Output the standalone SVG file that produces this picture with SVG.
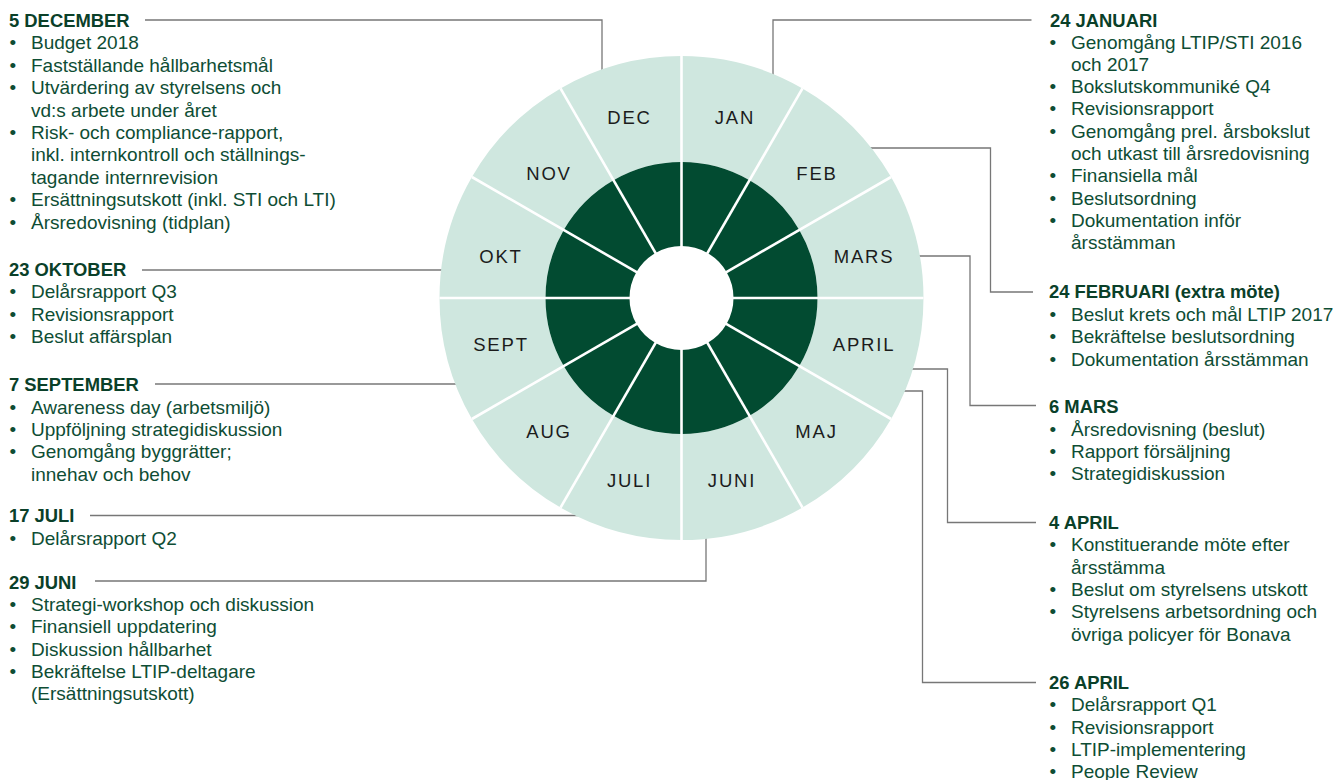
<svg xmlns="http://www.w3.org/2000/svg" width="1338" height="780" viewBox="0 0 1338 780">
<style>
.lt{fill:#cfe7df}
.dk{fill:#024b31}
.ml{font-family:"Liberation Sans",Arial,sans-serif;font-size:18.5px;letter-spacing:1.8px;fill:#1c1c1c;text-anchor:middle}
.hd{font-family:"Liberation Sans",Arial,sans-serif;font-size:18.4px;font-weight:bold;fill:#0a4029}
.bd{font-family:"Liberation Sans",Arial,sans-serif;font-size:19px;fill:#0e4d34}
.cn{fill:none;stroke:#777;stroke-width:1.3}
.dv{stroke:#fff;stroke-width:2.6}
</style>
<rect width="1338" height="780" fill="#fff"/>
<g id="connectors" class="cn">
<polyline points="145,20 602,20 602,74"/>
<polyline points="1031.5,20 773,20 773,78"/>
<polyline points="866,148 990.5,148 990.5,292 1033,292"/>
<polyline points="916,256 970,256 970,405.5 1036,405.5"/>
<polyline points="908,369 947.5,369 947.5,522.5 1036,522.5"/>
<polyline points="900,391 922.5,391 922.5,682.5 1036,682.5"/>
<polyline points="142,270 446,270"/>
<polyline points="155,384 460,384"/>
<polyline points="90,515.5 580,515.5"/>
<polyline points="95,581 706,581 706,534"/>
</g>
<g id="wheel">
<g id="m-jan"><path class="lt" d="M681.5,56 A242,242 0 0 1 802.5,88.42 L749.5,180.22 A136,136 0 0 0 681.5,162 Z"/><path class="dk" d="M681.5,162 A136,136 0 0 1 749.5,180.22 L707.5,252.97 A52,52 0 0 0 681.5,246 Z"/><text class="ml" x="735" y="124">JAN</text></g>
<g id="m-feb"><path class="lt" d="M802.5,88.42 A242,242 0 0 1 891.08,177 L799.28,230 A136,136 0 0 0 749.5,180.22 Z"/><path class="dk" d="M749.5,180.22 A136,136 0 0 1 799.28,230 L726.53,272 A52,52 0 0 0 707.5,252.97 Z"/><text class="ml" x="817" y="180">FEB</text></g>
<g id="m-mars"><path class="lt" d="M891.08,177 A242,242 0 0 1 923.5,298 L817.5,298 A136,136 0 0 0 799.28,230 Z"/><path class="dk" d="M799.28,230 A136,136 0 0 1 817.5,298 L733.5,298 A52,52 0 0 0 726.53,272 Z"/><text class="ml" x="864" y="262.7">MARS</text></g>
<g id="m-april"><path class="lt" d="M923.5,298 A242,242 0 0 1 891.08,419 L799.28,366 A136,136 0 0 0 817.5,298 Z"/><path class="dk" d="M817.5,298 A136,136 0 0 1 799.28,366 L726.53,324 A52,52 0 0 0 733.5,298 Z"/><text class="ml" x="864" y="351">APRIL</text></g>
<g id="m-maj"><path class="lt" d="M891.08,419 A242,242 0 0 1 802.5,507.58 L749.5,415.78 A136,136 0 0 0 799.28,366 Z"/><path class="dk" d="M799.28,366 A136,136 0 0 1 749.5,415.78 L707.5,342.97 A52,52 0 0 0 726.53,324 Z"/><text class="ml" x="816.5" y="437.7">MAJ</text></g>
<g id="m-juni"><path class="lt" d="M802.5,507.58 A242,242 0 0 1 681.5,540 L681.5,434 A136,136 0 0 0 749.5,415.78 Z"/><path class="dk" d="M749.5,415.78 A136,136 0 0 1 681.5,434 L681.5,350 A52,52 0 0 0 707.5,342.97 Z"/><text class="ml" x="732" y="486.7">JUNI</text></g>
<g id="m-juli"><path class="lt" d="M681.5,540 A242,242 0 0 1 560.5,507.58 L613.5,415.78 A136,136 0 0 0 681.5,434 Z"/><path class="dk" d="M681.5,434 A136,136 0 0 1 613.5,415.78 L655.5,342.97 A52,52 0 0 0 681.5,350 Z"/><text class="ml" x="629.5" y="486.7">JULI</text></g>
<g id="m-aug"><path class="lt" d="M560.5,507.58 A242,242 0 0 1 471.92,419 L563.72,366 A136,136 0 0 0 613.5,415.78 Z"/><path class="dk" d="M613.5,415.78 A136,136 0 0 1 563.72,366 L636.47,324 A52,52 0 0 0 655.5,342.97 Z"/><text class="ml" x="549" y="437.7">AUG</text></g>
<g id="m-sept"><path class="lt" d="M471.92,419 A242,242 0 0 1 439.5,298 L545.5,298 A136,136 0 0 0 563.72,366 Z"/><path class="dk" d="M563.72,366 A136,136 0 0 1 545.5,298 L629.5,298 A52,52 0 0 0 636.47,324 Z"/><text class="ml" x="501" y="351">SEPT</text></g>
<g id="m-okt"><path class="lt" d="M439.5,298 A242,242 0 0 1 471.92,177 L563.72,230 A136,136 0 0 0 545.5,298 Z"/><path class="dk" d="M545.5,298 A136,136 0 0 1 563.72,230 L636.47,272 A52,52 0 0 0 629.5,298 Z"/><text class="ml" x="501" y="262.7">OKT</text></g>
<g id="m-nov"><path class="lt" d="M471.92,177 A242,242 0 0 1 560.5,88.42 L613.5,180.22 A136,136 0 0 0 563.72,230 Z"/><path class="dk" d="M563.72,230 A136,136 0 0 1 613.5,180.22 L655.5,252.97 A52,52 0 0 0 636.47,272 Z"/><text class="ml" x="549" y="180">NOV</text></g>
<g id="m-dec"><path class="lt" d="M560.5,88.42 A242,242 0 0 1 681.5,56 L681.5,162 A136,136 0 0 0 613.5,180.22 Z"/><path class="dk" d="M613.5,180.22 A136,136 0 0 1 681.5,162 L681.5,246 A52,52 0 0 0 655.5,252.97 Z"/><text class="ml" x="629.5" y="124">DEC</text></g>
<g id="dividers" class="dv">
<line x1="681.5" y1="56" x2="681.5" y2="540"/>
<line x1="802.5" y1="88.42" x2="560.5" y2="507.58"/>
<line x1="891.08" y1="177" x2="471.92" y2="419"/>
<line x1="923.5" y1="298" x2="439.5" y2="298"/>
<line x1="891.08" y1="419" x2="471.92" y2="177"/>
<line x1="802.5" y1="507.58" x2="560.5" y2="88.42"/>
</g>
</g>
<g id="n-dec">
<text class="hd" x="9" y="27">5 DECEMBER</text>
<text class="bd"><tspan x="9.5" y="49.3">•</tspan><tspan x="31">Budget 2018</tspan><tspan x="9.5" y="71.7">•</tspan><tspan x="31">Fastställande hållbarhetsmål</tspan><tspan x="9.5" y="94.1">•</tspan><tspan x="31">Utvärdering av styrelsens och</tspan><tspan x="31" y="116.5">vd:s arbete under året</tspan><tspan x="9.5" y="138.9">•</tspan><tspan x="31">Risk- och compliance-rapport,</tspan><tspan x="31" y="161.3">inkl. internkontroll och ställnings-</tspan><tspan x="31" y="183.7">tagande internrevision</tspan><tspan x="9.5" y="206.1">•</tspan><tspan x="31">Ersättningsutskott (inkl. STI och LTI)</tspan><tspan x="9.5" y="228.5">•</tspan><tspan x="31">Årsredovisning (tidplan)</tspan></text>
</g>
<g id="n-okt">
<text class="hd" x="9" y="276">23 OKTOBER</text>
<text class="bd"><tspan x="9.5" y="298.3">•</tspan><tspan x="31">Delårsrapport Q3</tspan><tspan x="9.5" y="320.7">•</tspan><tspan x="31">Revisionsrapport</tspan><tspan x="9.5" y="343">•</tspan><tspan x="31">Beslut affärsplan</tspan></text>
</g>
<g id="n-sept">
<text class="hd" x="9" y="390.7">7 SEPTEMBER</text>
<text class="bd"><tspan x="9.5" y="413.5">•</tspan><tspan x="31">Awareness day (arbetsmiljö)</tspan><tspan x="9.5" y="435.8">•</tspan><tspan x="31">Uppföljning strategidiskussion</tspan><tspan x="9.5" y="458.2">•</tspan><tspan x="31">Genomgång byggrätter;</tspan><tspan x="31" y="480.5">innehav och behov</tspan></text>
</g>
<g id="n-juli">
<text class="hd" x="9" y="522.3">17 JULI</text>
<text class="bd"><tspan x="9.5" y="544.5">•</tspan><tspan x="31">Delårsrapport Q2</tspan></text>
</g>
<g id="n-juni">
<text class="hd" x="9" y="589">29 JUNI</text>
<text class="bd"><tspan x="9.5" y="611">•</tspan><tspan x="31">Strategi-workshop och diskussion</tspan><tspan x="9.5" y="633.3">•</tspan><tspan x="31">Finansiell uppdatering</tspan><tspan x="9.5" y="655.6">•</tspan><tspan x="31">Diskussion hållbarhet</tspan><tspan x="9.5" y="678">•</tspan><tspan x="31">Bekräftelse LTIP-deltagare</tspan><tspan x="31" y="700.3">(Ersättningsutskott)</tspan></text>
</g>
<g id="n-jan">
<text class="hd" x="1050" y="26.5">24 JANUARI</text>
<text class="bd"><tspan x="1049.5" y="48.5">•</tspan><tspan x="1071">Genomgång LTIP/STI 2016</tspan><tspan x="1071" y="70.8">och 2017</tspan><tspan x="1049.5" y="93.1">•</tspan><tspan x="1071">Bokslutskommuniké Q4</tspan><tspan x="1049.5" y="115.4">•</tspan><tspan x="1071">Revisionsrapport</tspan><tspan x="1049.5" y="137.7">•</tspan><tspan x="1071">Genomgång prel. årsbokslut</tspan><tspan x="1071" y="160">och utkast till årsredovisning</tspan><tspan x="1049.5" y="182.3">•</tspan><tspan x="1071">Finansiella mål</tspan><tspan x="1049.5" y="204.6">•</tspan><tspan x="1071">Beslutsordning</tspan><tspan x="1049.5" y="226.9">•</tspan><tspan x="1071">Dokumentation inför</tspan><tspan x="1071" y="249.2">årsstämman</tspan></text>
</g>
<g id="n-feb">
<text class="hd" x="1049" y="298.3">24 FEBRUARI (extra möte)</text>
<text class="bd"><tspan x="1049.5" y="321">•</tspan><tspan x="1071">Beslut krets och mål LTIP 2017</tspan><tspan x="1049.5" y="343.3">•</tspan><tspan x="1071">Bekräftelse beslutsordning</tspan><tspan x="1049.5" y="365.6">•</tspan><tspan x="1071">Dokumentation årsstämman</tspan></text>
</g>
<g id="n-mars">
<text class="hd" x="1049" y="413.3">6 MARS</text>
<text class="bd"><tspan x="1049.5" y="435.7">•</tspan><tspan x="1071">Årsredovisning (beslut)</tspan><tspan x="1049.5" y="458">•</tspan><tspan x="1071">Rapport försäljning</tspan><tspan x="1049.5" y="480.3">•</tspan><tspan x="1071">Strategidiskussion</tspan></text>
</g>
<g id="n-april4">
<text class="hd" x="1049" y="529">4 APRIL</text>
<text class="bd"><tspan x="1049.5" y="551.3">•</tspan><tspan x="1071">Konstituerande möte efter</tspan><tspan x="1071" y="573.6">årsstämma</tspan><tspan x="1049.5" y="595.9">•</tspan><tspan x="1071">Beslut om styrelsens utskott</tspan><tspan x="1049.5" y="618.2">•</tspan><tspan x="1071">Styrelsens arbetsordning och</tspan><tspan x="1071" y="640.5">övriga policyer för Bonava</tspan></text>
</g>
<g id="n-april26">
<text class="hd" x="1049" y="689">26 APRIL</text>
<text class="bd"><tspan x="1049.5" y="711.3">•</tspan><tspan x="1071">Delårsrapport Q1</tspan><tspan x="1049.5" y="733.6">•</tspan><tspan x="1071">Revisionsrapport</tspan><tspan x="1049.5" y="755.9">•</tspan><tspan x="1071">LTIP-implementering</tspan><tspan x="1049.5" y="778.2">•</tspan><tspan x="1071">People Review</tspan></text>
</g>
</svg>
